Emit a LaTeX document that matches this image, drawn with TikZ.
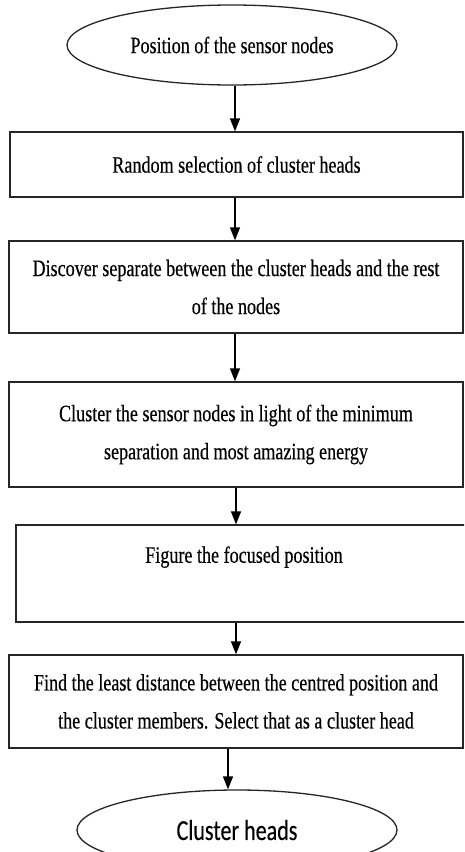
\documentclass[tikz,border=0pt]{standalone}
\usepackage{fontspec}
\setmainfont[FakeStretch=0.77,FakeBold=0.35]{Liberation Serif}
\newfontfamily\calib[FakeStretch=0.76,FakeBold=0.3]{Carlito}
\usetikzlibrary{shapes.geometric,arrows.meta}

\begin{document}
\begin{tikzpicture}[x=1pt,y=-1pt,
  boxed/.style={draw=black!85, line width=1.3pt, inner sep=0pt, align=center,
    font=\fontsize{23.5}{38}\selectfont},
  oval/.style={ellipse, draw=black!85, line width=1.3pt, inner sep=0pt},
  arr/.style={line width=1.5pt, -{Triangle[length=13pt,width=10pt]}}]
\useasboundingbox (0,0) rectangle (464,852);
\clip (0,0) rectangle (464,852);
\fill[white] (0,0) rectangle (464,852);

\node[oval, minimum width=330pt, minimum height=80pt,
  font=\fontsize{23.5}{38}\selectfont] (e1) at (232,45) {\raisebox{-10pt}{Position of the sensor nodes}};
\node[boxed, minimum width=453pt, minimum height=65pt] (b1) at (236.5,164.5)
  {Random selection of cluster heads};
\node[boxed, minimum width=454pt, minimum height=92pt] (b2) at (236,287)
  {Discover separate between the cluster heads and the rest\\of the nodes};
\node[boxed, minimum width=454pt, minimum height=105pt] (b3) at (236,434.5)
  {Cluster the sensor nodes in light of the minimum\\separation and most amazing energy};
\node[boxed, minimum width=456pt, minimum height=97pt] (b4) at (244,573.5)
  {Figure the focused position\\~};
\node[boxed, minimum width=454pt, minimum height=93pt] (b5) at (236,701.5)
  {Find the least distance between the centred position and\\the cluster members. Select that as a cluster head};
\node[oval, minimum width=320pt, minimum height=80pt,
  font=\calib\fontsize{29}{34}\selectfont] (e2) at (237,830) {Cluster heads};

\coordinate (ax) at (235,0);
\coordinate (ay) at (236,0);
\coordinate (az) at (228,0);
\draw[arr] (e1.south -| ax) -- (b1.north -| ax);
\draw[arr] (b1.south -| ax) -- (b2.north -| ax);
\draw[arr] (b2.south -| ax) -- (b3.north -| ax);
\draw[arr] (b3.south -| ay) -- (b4.north -| ay);
\draw[arr] (b4.south -| ay) -- (b5.north -| ay);
\draw[arr] (b5.south -| az) -- (e2.north -| az);
\end{tikzpicture}
\end{document}
